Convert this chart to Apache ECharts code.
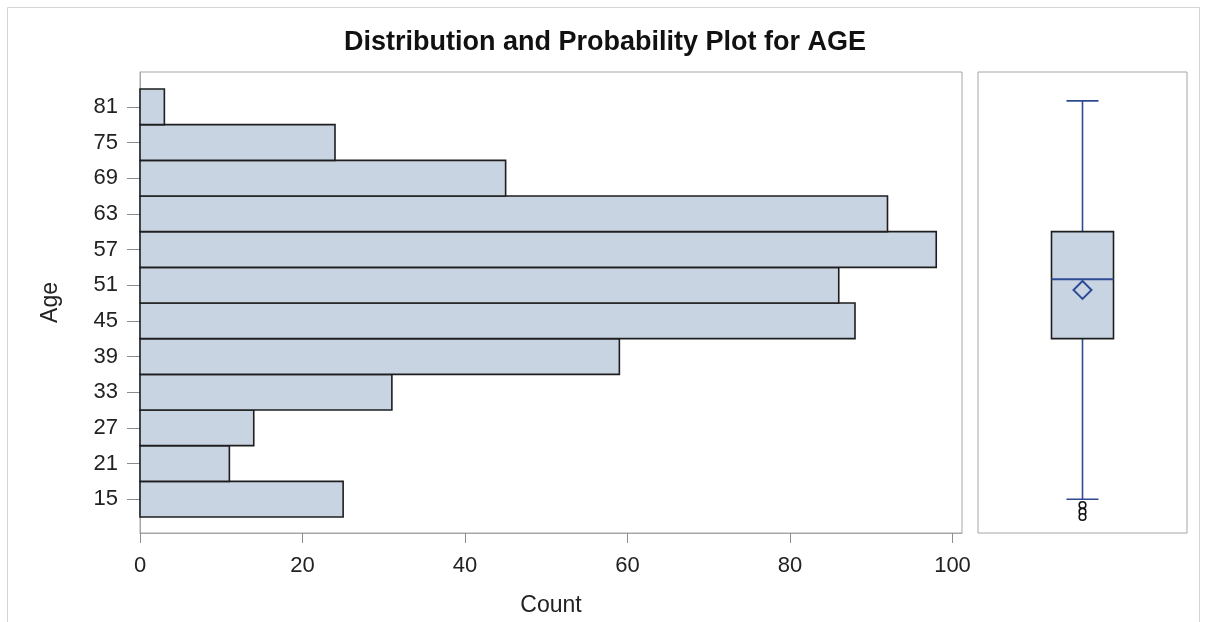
<!DOCTYPE html>
<html>
<head>
<meta charset="utf-8">
<script src="https://cdn.jsdelivr.net/npm/echarts@6/dist/echarts.min.js"></script>
<style>
html,body{margin:0;padding:0;background:#fff;}
#chart{width:1205px;height:622px;}
</style>
</head>
<body>
<div id="chart"></div>
<script>
// ---- data ----
var ageBinMid = [15, 21, 27, 33, 39, 45, 51, 57, 63, 69, 75, 81];
var ageCounts = [25, 11, 14, 31, 59, 88, 86, 98, 92, 45, 24, 3];
var binWidth = 6;
var countTicks = [0, 20, 40, 60, 80, 100];
var boxWhiskers = [15, 82];       // lower, upper whisker
var boxQuartiles = [42, 52, 60];  // Q1, median, Q3
var boxMean = [50.2];
var boxOutliers = [14, 12.9, 12];

var FONT = "'Liberation Sans', Arial, sans-serif";
var FILL = '#c9d4e3';
var EDGE = '#1e1e1e';
var BLUE = '#2f4a94';
var FRAME = '#a6a6a6';
var TEXT = '#222';

var histData = ageBinMid.map(function (m, i) { return [m, ageCounts[i]]; });

var chart = echarts.init(document.getElementById('chart'), null, {renderer: 'canvas'});

var option = {
  animation: false,
  backgroundColor: '#fff',
  title: {
    text: 'Distribution and Probability Plot for AGE',
    left: 344, top: 29, padding: 0,
    textStyle: {fontFamily: FONT, fontSize: 27, fontWeight: 'bold', color: '#111'}
  },
  graphic: [{
    type: 'rect', silent: true,
    shape: {x: 7.5, y: 7.5, width: 1192, height: 700},
    style: {fill: 'none', stroke: '#d4d4d4', lineWidth: 1}
  }],
  grid: [
    {left: 140, top: 72, width: 822, height: 461, show: true, borderColor: FRAME, borderWidth: 1, backgroundColor: '#fff'},
    {left: 978, top: 72, width: 209, height: 461, show: true, borderColor: FRAME, borderWidth: 1, backgroundColor: '#fff'}
  ],
  xAxis: [
    {
      type: 'value', gridIndex: 0, min: 0, max: 101.17,
      name: 'Count', nameLocation: 'middle', nameGap: 61,
      nameTextStyle: {fontFamily: FONT, fontSize: 23, color: TEXT},
      axisLine: {show: true, lineStyle: {color: FRAME, width: 1}},
      axisTick: {show: true, length: 10, customValues: countTicks, lineStyle: {color: '#8c8c8c'}},
      axisLabel: {customValues: countTicks, margin: 22, fontFamily: FONT, fontSize: 22, color: TEXT},
      splitLine: {show: false}
    },
    {
      type: 'value', gridIndex: 1, min: 0, max: 1, show: false
    }
  ],
  yAxis: [
    {
      type: 'value', gridIndex: 0, min: 9.31, max: 86.86,
      name: 'Age', nameLocation: 'middle', nameGap: 78, nameRotate: 90,
      nameTextStyle: {fontFamily: FONT, fontSize: 23, color: TEXT},
      axisLine: {show: true, lineStyle: {color: FRAME, width: 1}},
      axisTick: {show: true, length: 13, customValues: ageBinMid, lineStyle: {color: '#8c8c8c'}},
      axisLabel: {customValues: ageBinMid, margin: 22, fontFamily: FONT, fontSize: 22, color: TEXT},
      splitLine: {show: false}
    },
    {
      type: 'value', gridIndex: 1, min: 9.31, max: 86.86, show: false
    }
  ],
  series: [
    {
      type: 'custom', xAxisIndex: 0, yAxisIndex: 0,
      data: histData,
      renderItem: function (params, api) {
        var mid = api.value(0), cnt = api.value(1);
        var p0 = api.coord([0, mid + binWidth / 2]);
        var p1 = api.coord([cnt, mid - binWidth / 2]);
        return {
          type: 'rect',
          shape: {x: p0[0], y: p0[1], width: p1[0] - p0[0], height: p1[1] - p0[1]},
          style: {fill: FILL, stroke: EDGE, lineWidth: 1.6}
        };
      }
    },
    {
      type: 'custom', xAxisIndex: 1, yAxisIndex: 1,
      data: [[0.5, boxWhiskers[0], boxQuartiles[0], boxQuartiles[1], boxQuartiles[2], boxWhiskers[1], boxMean[0]]],
      renderItem: function (params, api) {
        var cx = api.coord([api.value(0), 0])[0];
        var yLo = api.coord([0, api.value(1)])[1];
        var yQ1 = api.coord([0, api.value(2)])[1];
        var yMed = api.coord([0, api.value(3)])[1];
        var yQ3 = api.coord([0, api.value(4)])[1];
        var yHi = api.coord([0, api.value(5)])[1];
        var yMean = api.coord([0, api.value(6)])[1];
        var hw = 31, cw = 16, dm = 9;
        var blueLine = {stroke: BLUE, lineWidth: 1.6};
        var children = [
          {type: 'line', shape: {x1: cx, y1: yHi, x2: cx, y2: yQ3}, style: blueLine},
          {type: 'line', shape: {x1: cx, y1: yQ1, x2: cx, y2: yLo}, style: blueLine},
          {type: 'line', shape: {x1: cx - cw, y1: yHi, x2: cx + cw, y2: yHi}, style: blueLine},
          {type: 'line', shape: {x1: cx - cw, y1: yLo, x2: cx + cw, y2: yLo}, style: blueLine},
          {type: 'rect', shape: {x: cx - hw, y: yQ3, width: 2 * hw, height: yQ1 - yQ3}, style: {fill: FILL, stroke: EDGE, lineWidth: 1.6}},
          {type: 'line', shape: {x1: cx - hw, y1: yMed, x2: cx + hw, y2: yMed}, style: {stroke: BLUE, lineWidth: 2}},
          {type: 'polygon', shape: {points: [[cx, yMean - dm], [cx + dm, yMean], [cx, yMean + dm], [cx - dm, yMean]]}, style: {fill: 'none', stroke: BLUE, lineWidth: 2}}
        ];
        return {type: 'group', children: children};
      }
    },
    {
      type: 'custom', xAxisIndex: 1, yAxisIndex: 1,
      data: boxOutliers.map(function (v) { return [0.5, v]; }),
      renderItem: function (params, api) {
        var p = api.coord([api.value(0), api.value(1)]);
        return {type: 'circle', shape: {cx: p[0], cy: p[1], r: 3.3}, style: {fill: '#fff', stroke: '#111', lineWidth: 1.6}};
      }
    }
  ]
};
chart.setOption(option);
</script>
</body>
</html>
